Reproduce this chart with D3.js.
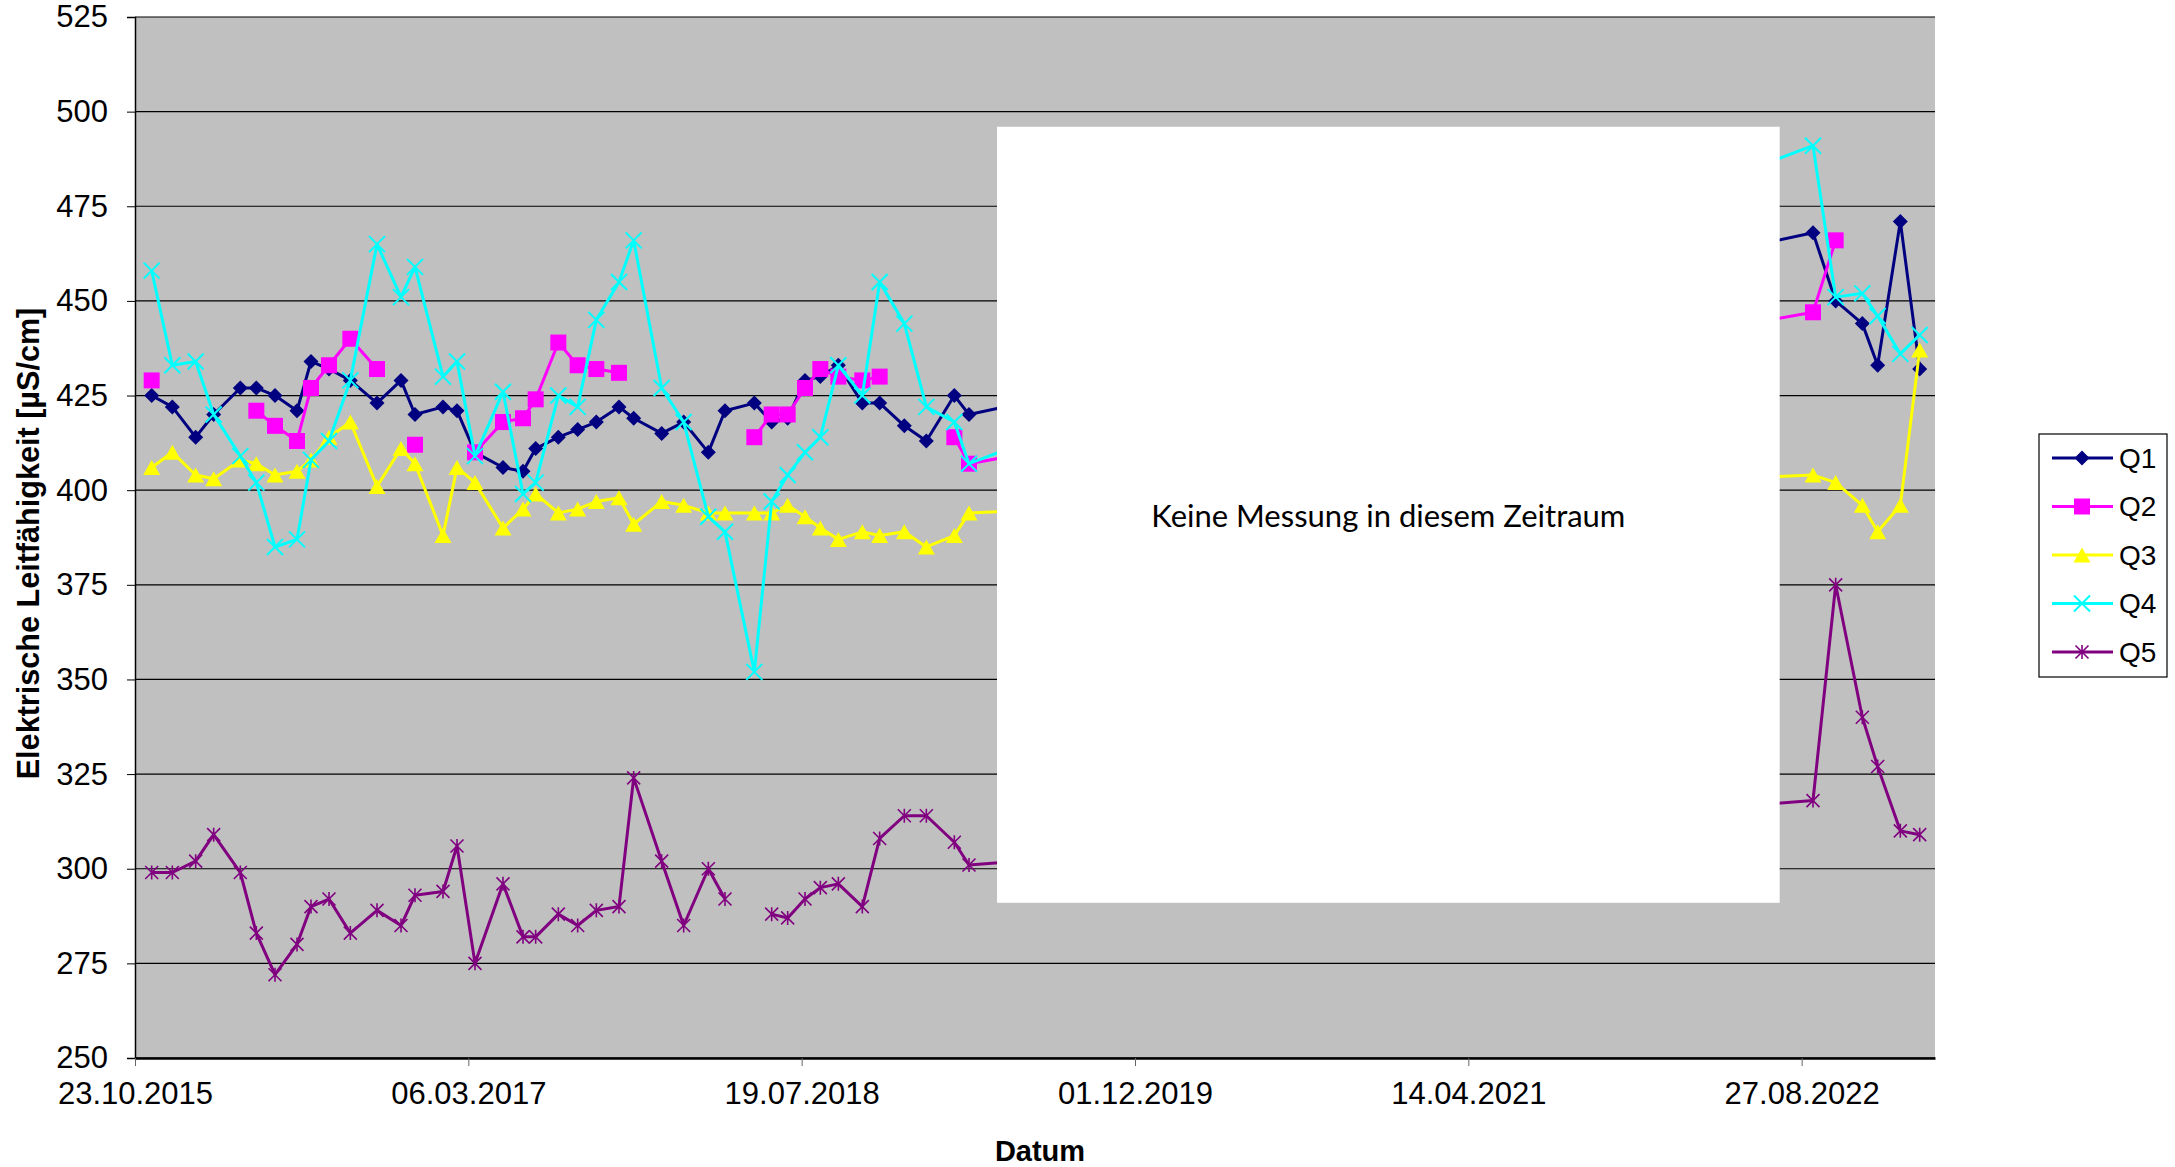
<!DOCTYPE html>
<html lang="de">
<head>
  <meta charset="UTF-8">
  <title>Elektrische Leitfähigkeit Q1–Q5</title>
  <style>
    body { margin: 0; background: #fff; }
    text { font-family: "Liberation Sans", Arial, sans-serif; fill: #000; }
  </style>
</head>
<body>
  <script src="https://d3js.org/d3.v7.min.js"></script>
  <script>
    // Messdaten (Datum + Werte je Quelle, null = keine Messung)
    const dates = [
      "2015-11-17", "2015-12-18", "2016-01-22", "2016-02-18", "2016-03-29", "2016-04-22",
      "2016-05-20", "2016-06-22", "2016-07-13", "2016-08-09", "2016-09-10", "2016-10-20",
      "2016-11-25", "2016-12-16", "2017-01-27", "2017-02-17", "2017-03-16", "2017-04-27",
      "2017-05-27", "2017-06-15", "2017-07-19", "2017-08-17", "2017-09-14", "2017-10-18",
      "2017-11-09", "2017-12-21", "2018-01-23", "2018-03-01", "2018-03-26", "2018-05-09",
      "2018-06-04", "2018-06-28", "2018-07-24", "2018-08-16", "2018-09-12", "2018-10-18",
      "2018-11-13", "2018-12-20", "2019-01-22", "2019-03-05", "2019-03-27",
      "2022-09-13", "2022-10-17", "2022-11-26", "2022-12-19", "2023-01-22", "2023-02-20"
    ];
    const q1 = [425, 422, 414, 420, 427, 427, 425, 421, 434, 432, 429, 423, 429, 420, 422, 421, 410, 406,
      405, 411, 414, 416, 418, 422, 419, 415, 418, 410, 421, 423, 418, 419, 429, 430, 433, 423, 423, 417,
      413, 425, 420, 468, 450, 444, 433, 471, 432];
    const q2 = [429, null, null, null, null, 421, 417, 413, 427, 433, 440, 432, null, 412, null, null, 410, 418,
      419, 424, 439, 433, 432, 431, null, null, null, null, null, 414, 420, 420, 427, 432, 430, 429, 430, null,
      null, 414, 407, 447, 466, null, null, null, null];
    const q3 = [406, 410, 404, 403, 408, 407, 404, 405, 408, 414, 418, 401, 411, 407, 388, 406, 402, 390,
      395, 399, 394, 395, 397, 398, 391, 397, 396, 394, 394, 394, 394, 396, 393, 390, 387, 389, 388, 389,
      385, 388, 394, 404, 402, 396, 389, 396, 437];
    const q4 = [458, 433, 434, 420, 409, 402, 385, 387, 408, 413, 429, 465, 451, 459, 430, 434, 409, 426,
      399, 402, 425, 422, 445, 455, 466, 427, 418, 393, 389, 352, 397, 404, 410, 414, 433, 425, 455, 444,
      422, 418, 407, 491, 451, 452, 446, 436, 441];
    const q5 = [299, 299, 302, 309, 299, 283, 272, 280, 290, 292, 283, 289, 285, 293, 294, 306, 275, 296,
      282, 282, 288, 285, 289, 290, 324, 302, 285, 300, 292, null, 288, 287, 292, 295, 296, 290, 308, 314,
      314, 307, 301, 318, 375, 340, 327, 310, 309];

    const seriesNames = ["Q1", "Q2", "Q3", "Q4", "Q5"];
    const seriesValues = [q1, q2, q3, q4, q5];
    const yTicks = d3.range(250, 526, 25);
    const xStart = "2015-10-23";
    const xTickStepDays = 500;
    const xSpanDays = 2700;
    const noDataText = "Keine Messung in diesem Zeitraum";
    const noDataFrom = "2019-05-08", noDataTo = "2022-07-25"; // Bereich des weißen Hinweisfeldes
    const noDataTop = 496, noDataBottom = 291;

    const width = 2175, height = 1167;
    const margin = { left: 135, right: 240, top: 17, bottom: 109 };
    const parse = d3.utcParse("%Y-%m-%d");
    const fmt = d3.utcFormat("%d.%m.%Y");
    const day = 864e5;
    const x0 = parse(xStart);
    const x = d3.scaleUtc()
      .domain([x0, new Date(+x0 + xSpanDays * day)])
      .range([margin.left, width - margin.right]);
    const y = d3.scaleLinear().domain([250, 525]).range([height - margin.bottom, margin.top]);

    const styles = [
      { color: "#000080", marker: "M0,-7.5L7.5,0L0,7.5L-7.5,0Z", fill: true },
      { color: "#FF00FF", marker: "M-8,-8h16v16h-16Z", fill: true },
      { color: "#FFFF00", marker: "M0,-7.5L8.5,7.5L-8.5,7.5Z", fill: true },
      { color: "#00FFFF", marker: "M-8,-8L8,8M8,-8L-8,8", fill: false, sw: 2 },
      { color: "#800080", marker: "M-6.5,-6.5L6.5,6.5M6.5,-6.5L-6.5,6.5M0,-7L0,7", fill: false, sw: 1.6 }
    ];

    const svg = d3.select("body").append("svg").attr("width", width).attr("height", height);

    // Zeichenfläche
    svg.append("rect")
      .attr("x", x.range()[0]).attr("y", y.range()[1])
      .attr("width", x.range()[1] - x.range()[0]).attr("height", y.range()[0] - y.range()[1])
      .attr("fill", "#C0C0C0");

    // Gitterlinien
    svg.append("g").selectAll("line").data(yTicks).join("line")
      .attr("x1", x.range()[0]).attr("x2", x.range()[1])
      .attr("y1", d => y(d)).attr("y2", d => y(d))
      .attr("stroke", "#000").attr("stroke-width", 1.2);

    // Y-Achse
    const yAxis = svg.append("g").attr("transform", `translate(${margin.left},0)`)
      .call(d3.axisLeft(y).tickValues(yTicks).tickSize(8).tickPadding(19));
    yAxis.select(".domain").attr("stroke", "#000").attr("stroke-width", 1.5);
    yAxis.selectAll("text").attr("font-size", 31).attr("font-family", "Liberation Sans, Arial, sans-serif");

    // X-Achse
    const xTicks = d3.range(0, xSpanDays + 1, xTickStepDays).map(d => new Date(+x0 + d * day));
    const xAxis = svg.append("g").attr("transform", `translate(0,${y.range()[0]})`)
      .call(d3.axisBottom(x).tickValues(xTicks).tickFormat(fmt).tickSize(8).tickPadding(16).tickSizeOuter(0));
    xAxis.select(".domain").attr("stroke", "#000").attr("stroke-width", 2.5);
    xAxis.selectAll("line").attr("stroke", "#666");
    xAxis.selectAll("text").attr("font-size", 31).attr("font-family", "Liberation Sans, Arial, sans-serif");

    // Reihen
    const pts = dates.map(parse);
    seriesValues.forEach((vals, i) => {
      const st = styles[i];
      const data = vals.map((v, j) => ({ d: pts[j], v }));
      const g = svg.append("g");
      g.append("path")
        .attr("d", d3.line().defined(p => p.v != null).x(p => x(p.d)).y(p => y(p.v))(data))
        .attr("fill", "none").attr("stroke", st.color).attr("stroke-width", 3)
        .attr("stroke-linejoin", "round");
      g.selectAll("path.m").data(data.filter(p => p.v != null)).join("path")
        .attr("class", "m")
        .attr("transform", p => `translate(${x(p.d)},${y(p.v)})`)
        .attr("d", st.marker)
        .attr("fill", st.fill ? st.color : "none")
        .attr("stroke", st.fill ? "none" : st.color)
        .attr("stroke-width", st.sw || 0);
    });

    // Hinweisfeld
    const bx0 = x(parse(noDataFrom)), bx1 = x(parse(noDataTo));
    svg.append("rect")
      .attr("x", bx0).attr("y", y(noDataTop))
      .attr("width", bx1 - bx0).attr("height", y(noDataBottom) - y(noDataTop))
      .attr("fill", "#fff");
    svg.append("text")
      .attr("x", (bx0 + bx1) / 2).attr("y", 527)
      .attr("text-anchor", "middle")
      .attr("font-size", 31).style("font-family", "Lato, 'Open Sans', sans-serif")
      .text(noDataText);

    // Achsentitel
    svg.append("text")
      .attr("transform", `translate(39,${(y.range()[0] + y.range()[1]) / 2 + 6}) rotate(-90)`)
      .attr("text-anchor", "middle").attr("font-size", 30.6).attr("font-weight", "bold")
      .text("Elektrische Leitfähigkeit [µS/cm]");
    svg.append("text")
      .attr("x", (x.range()[0] + x.range()[1]) / 2 + 5).attr("y", 1161)
      .attr("text-anchor", "middle").attr("font-size", 29).attr("font-weight", "bold")
      .text("Datum");

    // Legende
    const lg = svg.append("g").attr("transform", "translate(2039,434)");
    lg.append("rect").attr("width", 128).attr("height", 243)
      .attr("fill", "#fff").attr("stroke", "#000").attr("stroke-width", 1.2);
    seriesNames.forEach((name, i) => {
      const st = styles[i];
      const row = lg.append("g").attr("transform", `translate(0,${24 + i * 48.5})`);
      row.append("line").attr("x1", 13).attr("x2", 74)
        .attr("stroke", st.color).attr("stroke-width", 3);
      row.append("path").attr("transform", "translate(43,0)").attr("d", st.marker)
        .attr("fill", st.fill ? st.color : "none")
        .attr("stroke", st.fill ? "none" : st.color)
        .attr("stroke-width", st.sw || 0);
      row.append("text").attr("x", 80).attr("dy", "0.35em")
        .attr("font-size", 28).text(name);
    });
  </script>
</body>
</html>
